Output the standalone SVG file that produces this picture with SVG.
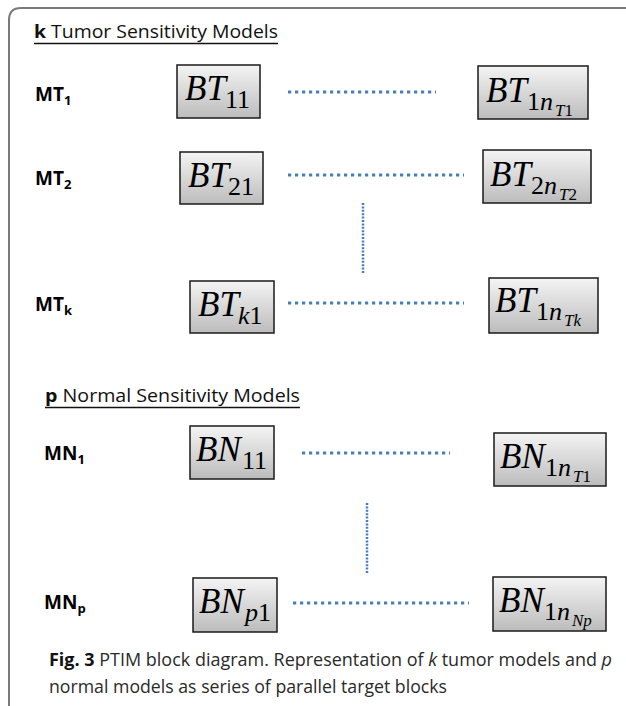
<svg xmlns="http://www.w3.org/2000/svg" width="626" height="706" viewBox="0 0 626 706">
<defs>
<linearGradient id="g" x1="0" y1="0" x2="0" y2="1">
<stop offset="0" stop-color="#f4f4f4"/>
<stop offset="1" stop-color="#bcbcbc"/>
</linearGradient>
</defs>
<style>
.box{fill:url(#g);stroke:#1a1a1a;stroke-width:1.5}
.m{font-family:"Liberation Serif","DejaVu Serif",serif;fill:#000}
.mi{font-style:italic}
.big{font-size:35px}
.sub{font-size:26px}
.ss{font-size:17px}
.lbl{font-family:"Open Sans","Liberation Sans",sans-serif;font-weight:bold;font-size:19px;fill:#000}
.lsub{font-size:13px}
.hdr{font-family:"Open Sans","Liberation Sans",sans-serif;font-size:18px;fill:#111}
.cap{font-family:"Open Sans","Liberation Sans",sans-serif;font-size:18px;fill:#2a2a2a}
.dh{stroke:#4a7ebb;stroke-width:3.2;stroke-dasharray:3.2 3.8;fill:none}
.dv{stroke:#4a7ebb;stroke-width:2.5;stroke-dasharray:2 1.4;fill:none}
</style>
<rect width="626" height="706" fill="#fff"/>
<path d="M9 706 V20 Q9 8 21 8 H626" fill="none" stroke="#7a7a7a" stroke-width="2"/>

<g id="header-tumor">
<text class="hdr" x="34" y="38" textLength="244" lengthAdjust="spacingAndGlyphs"><tspan font-weight="bold">k</tspan> Tumor Sensitivity  Models</text>
<line x1="34" y1="43.5" x2="278" y2="43.5" stroke="#111" stroke-width="1.5"/>
</g>
<g id="header-normal">
<text class="hdr" x="45" y="402" textLength="255" lengthAdjust="spacingAndGlyphs"><tspan font-weight="bold">p</tspan> Normal Sensitivity  Models</text>
<line x1="45" y1="407.5" x2="300" y2="407.5" stroke="#111" stroke-width="1.5"/>
</g>

<g id="label-MT1"><text class="lbl" x="35" y="101">MT<tspan class="lsub" dy="4">1</tspan></text></g>
<g id="label-MT2"><text class="lbl" x="35" y="185">MT<tspan class="lsub" dy="4">2</tspan></text></g>
<g id="label-MTk"><text class="lbl" x="35" y="311">MT<tspan class="lsub" dy="4">k</tspan></text></g>
<g id="label-MN1"><text class="lbl" x="44" y="460">MN<tspan class="lsub" dy="4">1</tspan></text></g>
<g id="label-MNp"><text class="lbl" x="44" y="609">MN<tspan class="lsub" dy="4">p</tspan></text></g>

<g id="connectors">
<line class="dh" x1="288" y1="92" x2="436" y2="92"/>
<line class="dh" x1="288" y1="175" x2="464" y2="175"/>
<line class="dv" x1="363" y1="203" x2="363" y2="273"/>
<line class="dh" x1="288" y1="303" x2="464" y2="303"/>
<line class="dh" x1="302" y1="453" x2="450" y2="453"/>
<line class="dv" x1="367" y1="503" x2="367" y2="573"/>
<line class="dh" x1="293" y1="603" x2="469" y2="603"/>
</g>

<g id="BT11">
<rect class="box" x="177" y="65" width="83" height="53"/>
<text class="m mi big" x="185" y="100">BT</text>
<text class="m sub" x="225" y="108">11</text>
</g>
<g id="BT1nT1">
<rect class="box" x="478" y="66" width="110" height="53"/>
<text class="m mi big" x="486" y="102">BT</text>
<text class="m sub" x="527" y="110">1<tspan class="mi">n</tspan></text>
<text class="m ss" x="555" y="116"><tspan class="mi">T</tspan>1</text>
</g>
<g id="BT21">
<rect class="box" x="180" y="152" width="83" height="52"/>
<text class="m mi big" x="188" y="187">BT</text>
<text class="m sub" x="228" y="195">21</text>
</g>
<g id="BT2nT2">
<rect class="box" x="483" y="150" width="108" height="53"/>
<text class="m mi big" x="490" y="186">BT</text>
<text class="m sub" x="531" y="194">2<tspan class="mi">n</tspan></text>
<text class="m ss" x="559" y="200"><tspan class="mi">T</tspan>2</text>
</g>
<g id="BTk1">
<rect class="box" x="190" y="281" width="84" height="52"/>
<text class="m mi big" x="198" y="316">BT</text>
<text class="m sub" x="238" y="324"><tspan class="mi">k</tspan>1</text>
</g>
<g id="BT1nTk">
<rect class="box" x="489" y="278" width="109" height="55"/>
<text class="m mi big" x="495" y="312">BT</text>
<text class="m sub" x="536" y="320">1<tspan class="mi">n</tspan></text>
<text class="m ss" x="564" y="326"><tspan class="mi">Tk</tspan></text>
</g>
<g id="BN11">
<rect class="box" x="190" y="426" width="84" height="53"/>
<text class="m mi big" x="196" y="461">BN</text>
<text class="m sub" x="242" y="469">11</text>
</g>
<g id="BN1nT1">
<rect class="box" x="494" y="433" width="112" height="53"/>
<text class="m mi big" x="500" y="468">BN</text>
<text class="m sub" x="545" y="476">1<tspan class="mi">n</tspan></text>
<text class="m ss" x="573" y="482"><tspan class="mi">T</tspan>1</text>
</g>
<g id="BNp1">
<rect class="box" x="193" y="578" width="84" height="54"/>
<text class="m mi big" x="199" y="613">BN</text>
<text class="m sub" x="245" y="621"><tspan class="mi">p</tspan>1</text>
</g>
<g id="BN1nNp">
<rect class="box" x="493" y="577" width="113" height="54"/>
<text class="m mi big" x="499" y="612">BN</text>
<text class="m sub" x="544" y="620">1<tspan class="mi">n</tspan></text>
<text class="m ss" x="572" y="626"><tspan class="mi">Np</tspan></text>
</g>

<g id="caption">
<text class="cap" x="49" y="666" textLength="563" lengthAdjust="spacingAndGlyphs"><tspan font-weight="bold" fill="#111">Fig. 3</tspan> PTIM block diagram. Representation of <tspan font-style="italic">k</tspan> tumor models and <tspan font-style="italic">p</tspan></text>
<text class="cap" x="49" y="693" textLength="398" lengthAdjust="spacingAndGlyphs">normal models as series of parallel target blocks</text>
</g>
</svg>
